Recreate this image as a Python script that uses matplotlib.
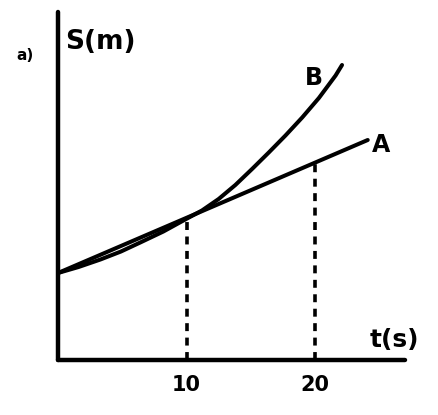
import matplotlib
matplotlib.use("Agg")
import matplotlib.pyplot as plt

# data (arbitrary s units)
t_a = [0.0, 24.1]
s_a = [8.7, 22.0]
t_b = [0.0, 1.6, 3.3, 4.9, 6.4, 8.2, 9.9, 11.2, 12.5, 13.8, 15.1, 16.4, 17.7, 19.0, 20.3, 21.6, 22.1]
s_b = [8.7, 9.3, 10.05, 10.85, 11.75, 12.85, 14.05, 14.95, 16.1, 17.5, 19.1, 20.75, 22.45, 24.25, 26.2, 28.45, 29.5]
t_marks = [10, 20]
s_marks = [14.2, 19.8]
tick_labels = ["10", "20"]

fig = plt.figure(figsize=(4.38, 4.15), dpi=100)
ax = fig.add_axes([58/438, 55/415, 347/438, 348/415])
ax.set_xlim(0, 27.0)
ax.set_ylim(0, 34.8)

for side in ("top", "right"):
    ax.spines[side].set_visible(False)
for side in ("left", "bottom"):
    ax.spines[side].set_linewidth(3.2)
    ax.spines[side].set_color("black")
    ax.spines[side].set_capstyle("round")

ax.plot(t_a, s_a, color="black", lw=2.9, solid_capstyle="round")
ax.plot(t_b, s_b, color="black", lw=2.9, solid_capstyle="round", solid_joinstyle="round")
for tm, sm in zip(t_marks, s_marks):
    ax.plot([tm, tm], [0, sm], color="black", lw=2.6, linestyle=(0, (2.2, 1.8)))

ax.set_yticks([])
ax.set_xticks(t_marks)
ax.set_xticklabels(tick_labels, fontsize=15, fontweight="bold")
ax.tick_params(axis="x", length=0, pad=11)

fig.text(100/438, 1 - 42/415, "S(m)", fontsize=19, fontweight="bold", ha="center", va="center")
fig.text(394/438, 1 - 340/415, "t(s)", fontsize=18, fontweight="bold", ha="center", va="center")
fig.text(25/438, 1 - 56/415, "a)", fontsize=11, fontweight="bold", ha="center", va="center")
fig.text(314/438, 1 - 78/415, "B", fontsize=17, fontweight="bold", ha="center", va="center")
fig.text(381/438, 1 - 145/415, "A", fontsize=17, fontweight="bold", ha="center", va="center")

fig.savefig("out.png", dpi=100)
